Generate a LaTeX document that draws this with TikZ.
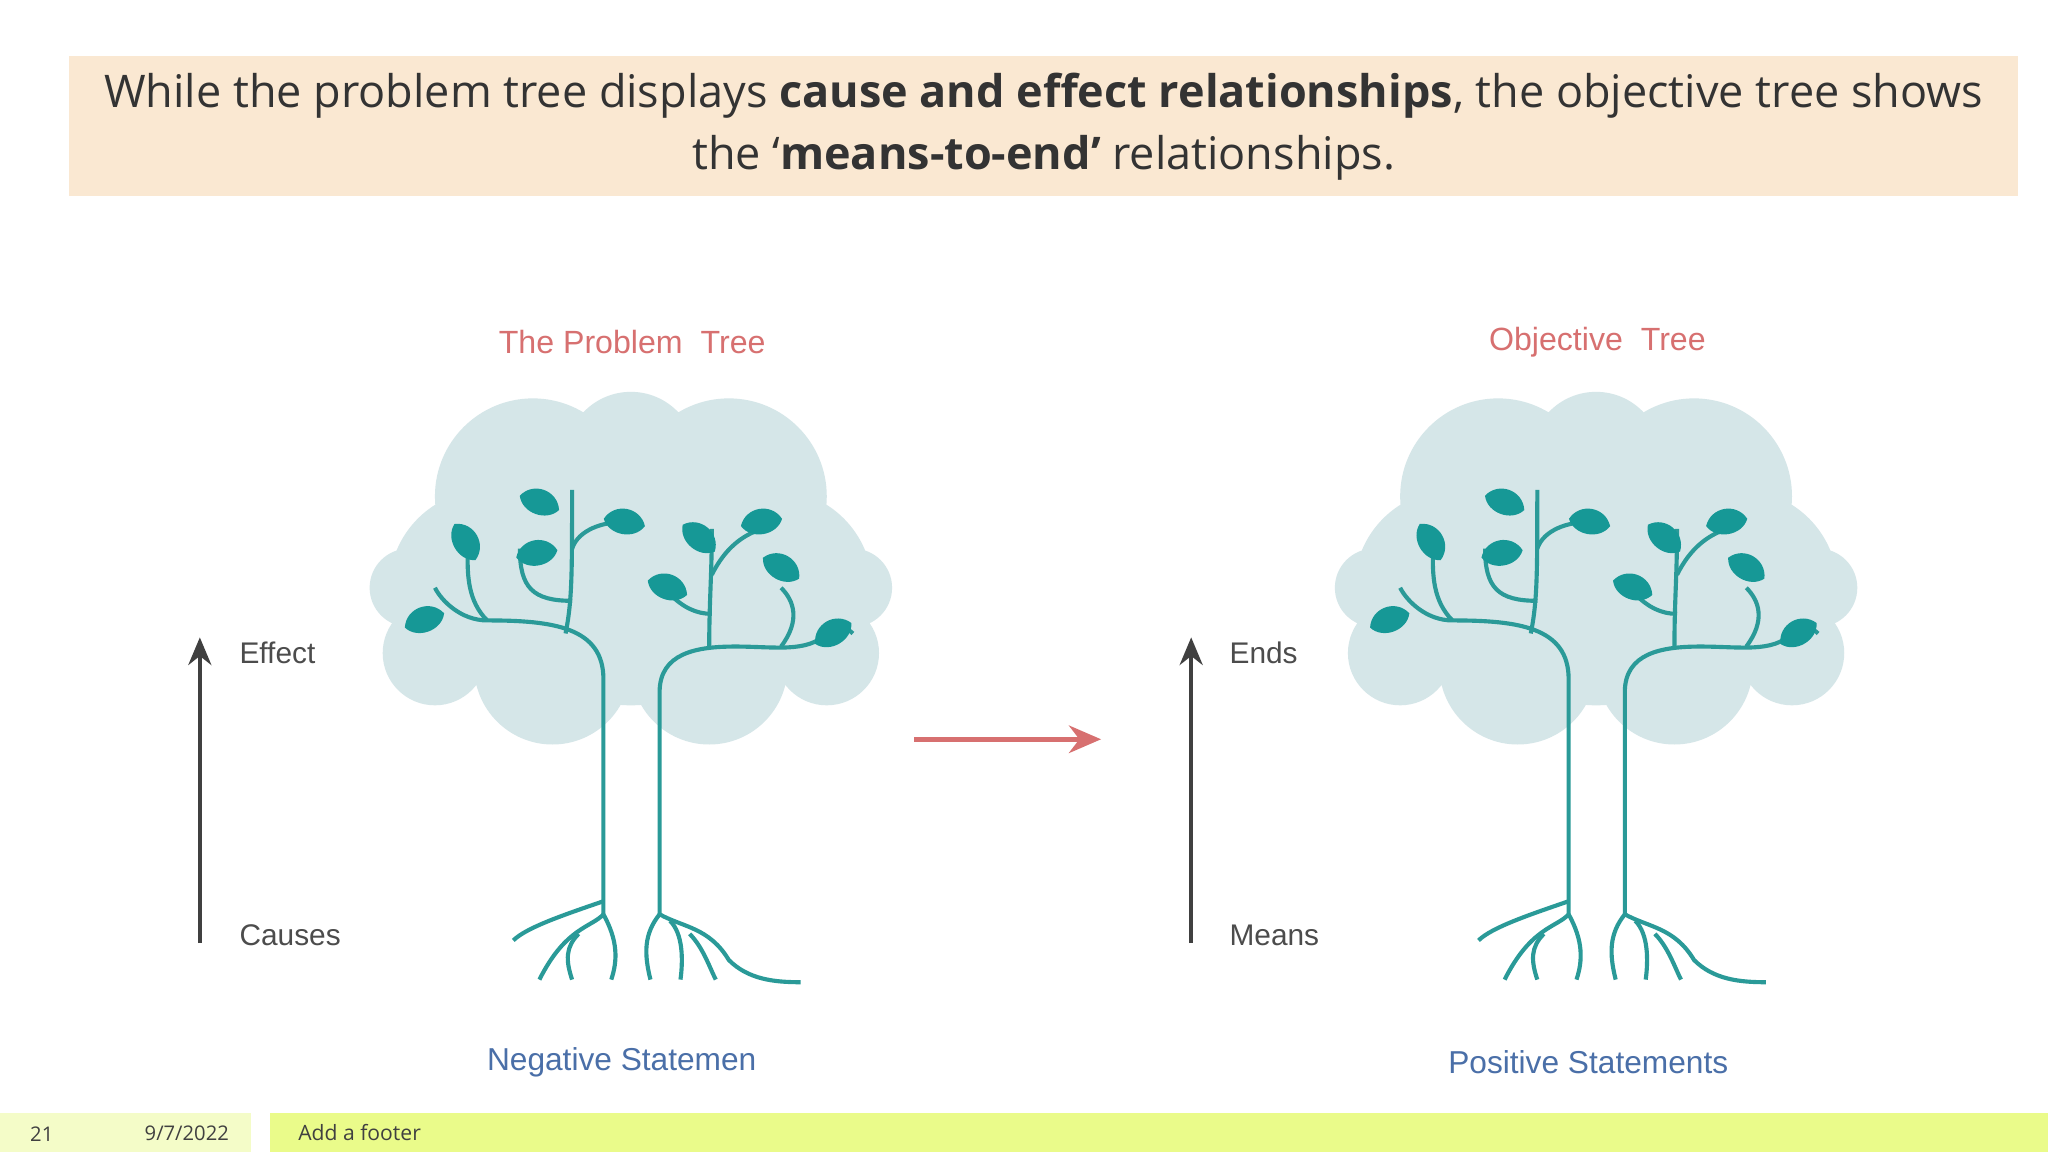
\documentclass[tikz,border=0pt]{standalone}
\usepackage{fontspec}
\setmainfont{Open Sans}
\newfontfamily\arialfont{Liberation Sans}
\usetikzlibrary{positioning}
\usetikzlibrary{arrows.meta}
\definecolor{titlebg}{HTML}{FAE8D2}
\definecolor{cloudc}{HTML}{D5E6E8}
\definecolor{teal1}{HTML}{2A9A98}
\definecolor{leafc}{HTML}{169896}
\definecolor{redlab}{HTML}{D77070}
\definecolor{bluelab}{HTML}{4A6FA8}
\definecolor{footbg}{HTML}{EAFB8A}
\definecolor{footlt}{HTML}{F4FCC8}

\begin{document}
\begin{tikzpicture}[x=0.1mm,y=-0.1mm,
axislabel/.style={font=\arialfont\fontsize{6.5}{8}\selectfont,text=black!70,anchor=west},
treetitle/.style={font=\arialfont\fontsize{7}{8}\selectfont,text=redlab},
treebase/.style={font=\arialfont\fontsize{6.9}{8}\selectfont,text=bluelab},
axisarrow/.style={-{Stealth[length=6pt,width=5pt]},line width=0.9pt,black!75},
branch/.style={teal1,line width=0.9pt},
leaf/.style={fill=leafc,draw=none},
tree/.pic={
	% crown
	\fill[cloudc] (0,-90) circle (110) (-110,-70) circle (75) (110,-70) circle (75)
		(-75,-140) circle (75) (75,-140) circle (75) (-150,-20) circle (40)
		(150,-20) circle (40) (-170,-70) circle (30) (170,-70) circle (30)
		(-60,-10) circle (60) (60,-10) circle (60) (0,-170) circle (50);
	% trunk
	\draw[branch] (-21,180) -- (-21,0) .. controls (-21,-40) and (-60,-45) .. (-110,-45)
		.. controls (-130,-45) and (-145,-60) .. (-150,-70);
	\draw[branch] (22,180) -- (22,10) .. controls (22,-20) and (50,-25) .. (80,-25)
		.. controls (110,-25) and (135,-20) .. (150,-35);
	\draw[branch] (-110,-45) .. controls (-125,-60) and (-125,-80) .. (-125,-95);
	\draw[branch] (-50,-35) .. controls (-45,-60) and (-45,-80) .. (-45,-145);
	\draw[branch] (-45,-60) .. controls (-75,-60) and (-85,-70) .. (-85,-100);
	\draw[branch] (-45,-100) .. controls (-40,-115) and (-20,-120) .. (-10,-120);
	\draw[branch] (60,-25) .. controls (60,-60) and (62,-80) .. (62,-115);
	\draw[branch] (62,-50) .. controls (50,-50) and (40,-55) .. (30,-65);
	\draw[branch] (62,-80) .. controls (72,-100) and (85,-110) .. (100,-115);
	\draw[branch] (115,-25) .. controls (130,-45) and (125,-60) .. (115,-70);
	\draw[branch] (150,-35) .. controls (160,-40) and (165,-40) .. (170,-35);
	% roots
	\draw[branch] (-21,180) .. controls (-30,190) and (-50,190) .. (-70,230);
	\draw[branch] (-21,170) .. controls (-50,180) and (-80,190) .. (-90,200);
	\draw[branch] (-40,195) .. controls (-50,205) and (-50,215) .. (-45,230);
	\draw[branch] (-21,180) .. controls (-10,200) and (-10,215) .. (-15,230);
	\draw[branch] (22,180) .. controls (10,195) and (10,210) .. (15,230);
	\draw[branch] (22,180) .. controls (40,190) and (60,190) .. (75,215)
		.. controls (90,230) and (110,232) .. (130,232);
	\draw[branch] (45,195) .. controls (55,205) and (60,220) .. (65,230);
	\draw[branch] (30,185) .. controls (40,195) and (40,215) .. (38,230);
	% leaves
	\foreach \lx/\ly/\la in {-158/-45/20,-127/-105/-60,-72/-96/10,-70/-135/-20,
		-5/-120/-10,52/-108/-40,100/-120/10,28/-70/-20,115/-85/-30,155/-35/30}
		\fill[leaf,rotate around={\la:(\lx,\ly)}] (\lx-16,\ly) .. controls (\lx-10,\ly-14) and (\lx+10,\ly-14) .. (\lx+16,\ly)
			.. controls (\lx+10,\ly+12) and (\lx-10,\ly+12) .. cycle;
}]
\useasboundingbox (0,0) rectangle (1568,882);
\fill[white] (0,0) rectangle (1568,882);

% title band
\fill[titlebg] (53,43) rectangle (1545,150);
\node (title) [align=center,text=black!80,font=\fontsize{9.8}{13.3}\selectfont] at (799,97)
	{While the problem tree displays \textbf{cause and effect relationships}, the objective tree shows\\
	 the `\textbf{means-to-end'} relationships.};

% trees
\pic at (483,520) {tree};
\pic at (1222,520) {tree};

\node (probtitle) [treetitle] at (484,262) {The Problem~~Tree};
\node (objtitle) [treetitle] at (1223,262) {Objective~~Tree};
\node (negstat) [treebase] at (476,813) {Negative Statemen};
\node (posstat) [treebase] at (1216,813) {Positive Statements};

% axes
\coordinate (lbot) at (153,722);
\coordinate (ltop) at (153,488);
\draw[axisarrow] (lbot) -- (ltop);
\node (effect) [axislabel] at (171,500) {Effect};
\node (causes) [axislabel] at (171,716) {Causes};
\coordinate (rbot) at (912,722);
\coordinate (rtop) at (912,488);
\draw[axisarrow] (rbot) -- (rtop);
\node (ends) [axislabel] at (929,500) {Ends};
\node (means) [axislabel] at (929,716) {Means};

% transition arrow
\coordinate (mleft) at (700,566);
\coordinate (mright) at (843,566);
\draw[-{Stealth[length=7pt,width=6pt]},redlab,line width=1pt] (mleft) -- (mright);

% footer
\fill[footlt] (0,852) rectangle (192,882);
\fill[footbg] (207,852) rectangle (1568,882);
\node (pagenum) [font=\fontsize{4.4}{6}\selectfont,text=black!75] at (32,868) {21};
\node (footdate) [font=\fontsize{4.4}{6}\selectfont,text=black!75] at (143,868) {9/7/2022};
\node (footer) [font=\fontsize{4.6}{6}\selectfont,text=black!75,anchor=west] at (216,867) {Add a footer};
\end{tikzpicture}
\end{document}
